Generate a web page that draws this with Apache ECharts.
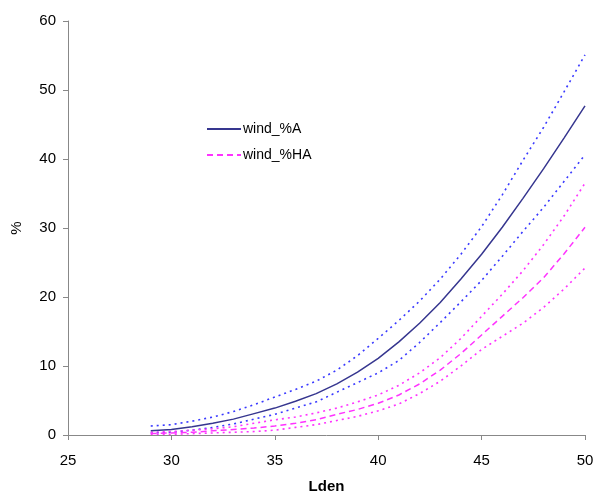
<!DOCTYPE html>
<html>
<head>
<meta charset="utf-8">
<script src="https://cdn.jsdelivr.net/npm/echarts@6/dist/echarts.min.js"></script>
<style>
html,body{margin:0;padding:0;background:#fff;}
#chart{width:598px;height:493px;}
</style>
</head>
<body>
<div id="chart"></div>
<script>
var lden = [29,30,31,32,33,34,35,36,37,38,39,40,41,42,43,44,45,46,47,48,49,50];
var windA      = [0.6,0.8,1.2,1.7,2.3,3.1,3.9,4.9,6.0,7.4,9.1,11.1,13.5,16.2,19.2,22.6,26.2,30.1,34.3,38.6,43.1,47.7];
var windAUpper = [1.3,1.5,2.0,2.6,3.4,4.4,5.5,6.6,7.8,9.4,11.5,14.0,16.6,19.4,22.6,26.2,30.2,34.8,39.8,44.6,49.8,55.1];
var windALower = [0.3,0.4,0.7,1.1,1.6,2.3,3.0,3.9,4.8,6.2,7.6,9.0,10.8,13.4,16.3,19.3,22.4,25.9,29.5,33.0,36.8,40.6];
var windHA      = [0.2,0.3,0.4,0.6,0.8,1.0,1.3,1.7,2.2,3.0,3.7,4.6,5.8,7.4,9.4,11.8,14.5,17.2,19.9,22.8,26.3,30.1];
var windHAUpper = [0.4,0.5,0.7,0.9,1.2,1.7,2.2,2.6,3.2,3.9,4.8,5.8,7.2,9.0,11.2,14.0,17.2,20.4,23.8,27.6,31.8,36.5];
var windHALower = [0.1,0.1,0.2,0.3,0.4,0.5,0.7,1.1,1.5,2.1,2.7,3.5,4.5,6.0,7.8,10.0,12.4,14.3,16.2,18.5,21.2,24.2];
var xTicks = [25,30,35,40,45,50];
var yTicks = [0,10,20,30,40,50,60];

function pairs(ys){ return lden.map(function(x,i){ return [x, ys[i]]; }); }

var chart = echarts.init(document.getElementById('chart'));
var font = 'Liberation Sans, Arial, sans-serif';
var axisCol = '#888888';
chart.setOption({
  animation:false,
  backgroundColor:'#ffffff',
  grid:{left:68,right:13,top:21,bottom:58,containLabel:false,outerBoundsMode:'none'},
  legend:{
    orient:'vertical', left:201, top:117,
    data:['wind_%A','wind_%HA'],
    itemWidth:34, itemHeight:10, itemGap:12,
    itemStyle:{opacity:0},
    textStyle:{fontFamily:font,fontSize:14,color:'#000',padding:[0,0,0,-3]}
  },
  xAxis:{
    type:'value', min:xTicks[0], max:xTicks[xTicks.length-1], interval:5,
    name:'Lden', nameLocation:'middle', nameGap:44,
    nameTextStyle:{fontFamily:font,fontSize:15,fontWeight:'bold',color:'#000'},
    axisLine:{lineStyle:{color:axisCol,width:1}},
    axisTick:{show:true,inside:false,length:5,lineStyle:{color:axisCol}},
    axisLabel:{fontFamily:font,fontSize:15,color:'#000',margin:18},
    splitLine:{show:false}
  },
  yAxis:{
    type:'value', min:yTicks[0], max:yTicks[yTicks.length-1], interval:10,
    name:'%', nameLocation:'middle', nameGap:44, nameRotate:90,
    nameTextStyle:{fontFamily:font,fontSize:15,color:'#000'},
    axisLine:{show:true,lineStyle:{color:axisCol,width:1}},
    axisTick:{show:true,inside:false,length:5,lineStyle:{color:axisCol}},
    axisLabel:{fontFamily:font,fontSize:15,color:'#000',margin:12},
    splitLine:{show:false}
  },
  series:[
    {name:'wind_%A upper',type:'line',data:pairs(windAUpper),symbol:'none',
     lineStyle:{color:'#3a3aff',width:1.6,type:[2,4]},z:2},
    {name:'wind_%A',type:'line',data:pairs(windA),symbol:'none',
     itemStyle:{color:'#36368f'},
     lineStyle:{color:'#36368f',width:1.5,type:'solid'},z:3},
    {name:'wind_%A lower',type:'line',data:pairs(windALower),symbol:'none',
     lineStyle:{color:'#3a3aff',width:1.6,type:[2,4]},z:2},
    {name:'wind_%HA upper',type:'line',data:pairs(windHAUpper),symbol:'none',
     lineStyle:{color:'#ff33ff',width:1.6,type:[2,4]},z:2},
    {name:'wind_%HA',type:'line',data:pairs(windHA),symbol:'none',
     itemStyle:{color:'#ff33ff'},
     lineStyle:{color:'#ff33ff',width:1.5,type:[6,4]},z:3},
    {name:'wind_%HA lower',type:'line',data:pairs(windHALower),symbol:'none',
     lineStyle:{color:'#ff33ff',width:1.6,type:[2,4]},z:2}
  ]
});
</script>
</body>
</html>
